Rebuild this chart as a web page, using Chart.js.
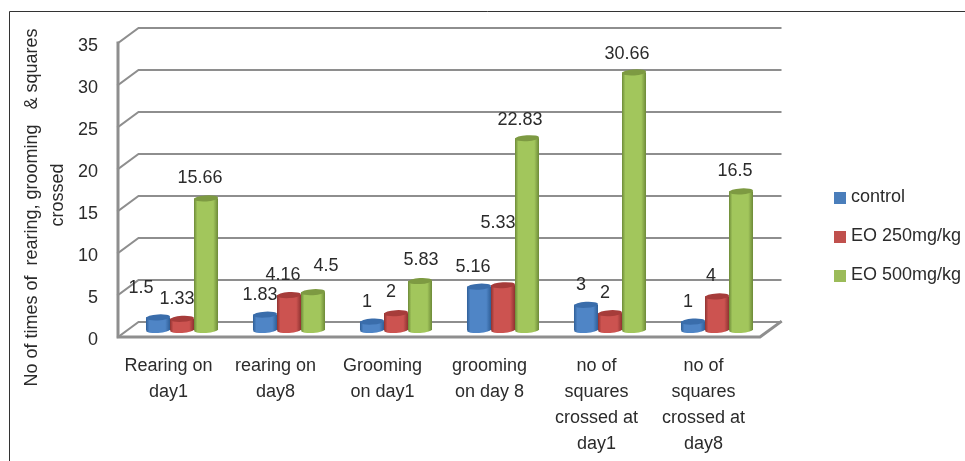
<!DOCTYPE html>
<html>
<head>
<meta charset="utf-8">
<style>
  html, body { margin: 0; padding: 0; background: #fff; }
  #wrap { position: relative; width: 965px; height: 461px; overflow: hidden; }
  canvas { display: block; }
</style>
<script src="https://cdn.jsdelivr.net/npm/chart.js@4"></script>
</head>
<body>
<div id="wrap"><canvas id="chart" width="965" height="461"></canvas></div>
<script>
// Behaviour scores per treatment group
const categories = [
  ['Rearing on', 'day1'],
  ['rearing on', 'day8'],
  ['Grooming', 'on day1'],
  ['grooming', 'on day 8'],
  ['no of', 'squares', 'crossed at', 'day1'],
  ['no of', 'squares', 'crossed at', 'day8']
];
const control = [1.5, 1.83, 1, 5.16, 3, 1];
const eo250 = [1.33, 4.16, 2, 5.33, 2, 4];
const eo500 = [15.66, 4.5, 5.83, 22.83, 30.66, 16.5];

const seriesNames = ['control', 'EO 250mg/kg', 'EO 500mg/kg'];
const yTicks = [0, 5, 10, 15, 20, 25, 30, 35];

// Cylinder palette: body, edge shade, cap
const palette = [
  { body: '#4f85c6', edge: '#2f5f98', cap: '#3a6dab', key: '#4a7ebb' },
  { body: '#cc5350', edge: '#8f3331', cap: '#a63c3a', key: '#c0504d' },
  { body: '#a2c65c', edge: '#6d8a38', cap: '#7d9a42', key: '#9bbb59' }
];

// Hand-placed data label nudges (px from the top centre of each cylinder)
const labelNudge = [
  [[-17, -29], [-5, -20], [-5, -20], [-6, -20], [-5, -20], [-5, -20]],
  [[-5, -20], [-6, -20], [-5, -21], [-5, -62], [-5, -20], [-6, -20]],
  [[-6, -20], [13, -26], [1, -21], [-7, -18], [-7, -18], [-6, -20]]
];

const FONT = 'Liberation Sans, Arial, sans-serif';
const TEXT = '#2b2b2b';
const GRID = '#8e8e8e';
const DEPTH_X = 20.5;      // floor depth, horizontal
const DEPTH_Y = 15;        // floor depth, vertical
const BAR_DX = 10.5;       // cylinders stand mid-way along the floor
const BAR_DY = 7;
const CAP_RY = 3;
const CAP_TILT = -0.06;

function keySwatch(color) {
  const c = document.createElement('canvas');
  c.width = 12; c.height = 12;
  const g = c.getContext('2d');
  g.fillStyle = color;
  g.fillRect(0, 0, 12, 12);
  return c;
}

function cylinderShade(ctx, bar, pal) {
  const l = bar.x - bar.width / 2;
  const g = ctx.createLinearGradient(l, 0, l + bar.width, 0);
  g.addColorStop(0, pal.edge);
  g.addColorStop(0.14, pal.body);
  g.addColorStop(0.8, pal.body);
  g.addColorStop(1, pal.edge);
  return g;
}

const frame3d = {
  id: 'frame3d',
  beforeLayout(chart) {
    const legend = chart.legend;
    if (legend && !legend._widened) {
      const fit = legend.fit;
      legend.fit = function () { fit.call(this); this.width = 205; };
      legend._widened = true;
    }
  },
  afterLayout(chart) {
    // The key floats clear of the plot, to the right of the floor
    const legend = chart.legend;
    legend.left = 817;
    legend.top = 167.5;
  },
  beforeDraw(chart) {
    const { ctx, width } = chart;
    ctx.save();
    ctx.fillStyle = '#fff';
    ctx.fillRect(0, 0, chart.width, chart.height);
    ctx.strokeStyle = '#333';
    ctx.lineWidth = 1;
    ctx.beginPath();
    ctx.moveTo(9.5, chart.height);
    ctx.lineTo(9.5, 11.5);
    ctx.lineTo(width, 11.5);
    ctx.stroke();
    ctx.restore();
  },
  beforeDatasetsDraw(chart) {
    const { ctx, chartArea: a, scales: { y } } = chart;
    ctx.save();
    ctx.strokeStyle = GRID;
    ctx.lineWidth = 2;
    ctx.lineCap = 'square';
    yTicks.forEach(t => {
      const py = y.getPixelForValue(t);
      ctx.beginPath();
      ctx.moveTo(a.left, py);
      ctx.lineTo(a.left + DEPTH_X, py - DEPTH_Y);
      ctx.lineTo(a.right + DEPTH_X, py - DEPTH_Y);
      ctx.stroke();
    });
    // floor front edge, side rail and wall edge
    ctx.lineWidth = 3;
    ctx.beginPath();
    ctx.moveTo(a.left, y.getPixelForValue(35));
    ctx.lineTo(a.left, a.bottom);
    ctx.lineTo(a.right, a.bottom);
    ctx.lineTo(a.right + DEPTH_X, a.bottom - DEPTH_Y);
    ctx.stroke();
    ctx.restore();
  },
  beforeDatasetDraw(chart, args) {
    const { ctx } = chart;
    ctx.save();
    ctx.translate(BAR_DX, -BAR_DY);
    const pal = palette[args.index];
    args.meta.data.forEach(bar => {
      ctx.fillStyle = cylinderShade(ctx, bar, pal);
      ctx.beginPath();
      ctx.ellipse(bar.x, bar.base, bar.width / 2, CAP_RY, CAP_TILT, 0, Math.PI * 2);
      ctx.fill();
    });
  },
  afterDatasetDraw(chart, args) {
    const { ctx } = chart;
    const pal = palette[args.index];
    args.meta.data.forEach(bar => {
      ctx.fillStyle = cylinderShade(ctx, bar, pal);
      ctx.fillRect(bar.x - bar.width / 2, bar.y, bar.width, bar.base - bar.y);
      ctx.fillStyle = pal.cap;
      ctx.beginPath();
      ctx.ellipse(bar.x, bar.y, bar.width / 2, CAP_RY, CAP_TILT, 0, Math.PI * 2);
      ctx.fill();
    });
    ctx.restore();
  },
  afterDatasetsDraw(chart) {
    const { ctx } = chart;
    ctx.save();
    ctx.font = '18px ' + FONT;
    ctx.fillStyle = TEXT;
    ctx.textAlign = 'center';
    ctx.textBaseline = 'middle';
    chart.data.datasets.forEach((ds, i) => {
      chart.getDatasetMeta(i).data.forEach((bar, j) => {
        const [nx, ny] = labelNudge[i][j];
        ctx.fillText(String(ds.data[j]), bar.x + BAR_DX + nx, bar.y - BAR_DY + ny);
      });
    });
    ctx.restore();
  }
};

new Chart(document.getElementById('chart'), {
  type: 'bar',
  data: {
    labels: categories,
    datasets: [
      { label: seriesNames[0], data: control, backgroundColor: palette[0].key },
      { label: seriesNames[1], data: eo250, backgroundColor: palette[1].key },
      { label: seriesNames[2], data: eo500, backgroundColor: palette[2].key }
    ]
  },
  options: {
    responsive: false,
    animation: false,
    events: [],
    categoryPercentage: 0.673,
    barPercentage: 1,
    layout: { padding: { left: 19, top: 43, right: 0, bottom: 0 } },
    scales: {
      x: {
        grid: { display: false, drawTicks: false },
        border: { display: false },
        ticks: {
          font: { family: FONT, size: 18, lineHeight: 1.44 },
          color: TEXT,
          padding: 16,
          maxRotation: 0,
          minRotation: 0,
          autoSkip: false,
          labelOffset: -3
        },
        afterFit(scale) { scale.height = 124; }
      },
      y: {
        min: 0,
        max: 35,
        grid: { display: false, drawTicks: false },
        border: { display: false },
        afterBuildTicks(scale) { scale.ticks = yTicks.map(value => ({ value })); },
        ticks: {
          font: { family: FONT, size: 18 },
          color: TEXT,
          padding: 20,
          labelOffset: 3
        },
        title: {
          display: true,
          text: ['No of times of  rearing, grooming   & squares       ', 'crossed  '],
          font: { family: FONT, size: 18, lineHeight: 1.44 },
          color: TEXT,
          padding: 0
        },
        afterFit(scale) { scale.width = 99; }
      }
    },
    plugins: {
      title: { display: false },
      tooltip: { enabled: false },
      legend: {
        position: 'right',
        align: 'start',
        labels: {
          font: { family: FONT, size: 18 },
          color: TEXT,
          usePointStyle: true,
          pointStyleWidth: 4,
          boxHeight: 12,
          padding: 21,
          generateLabels(chart) {
            return Chart.defaults.plugins.legend.labels.generateLabels(chart).map((item, i) => {
              item.pointStyle = keySwatch(palette[i].key);
              return item;
            });
          }
        }
      }
    }
  },
  plugins: [frame3d]
});
</script>
</body>
</html>
